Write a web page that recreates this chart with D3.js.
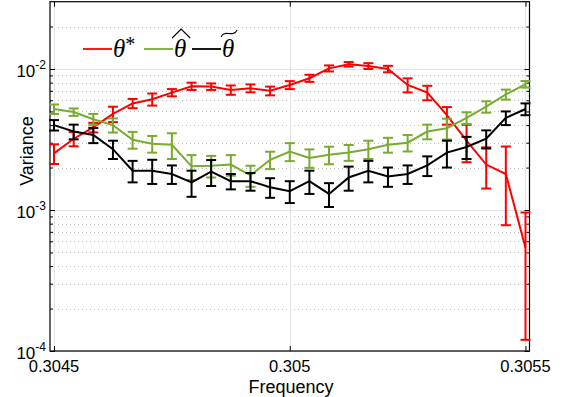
<!DOCTYPE html>
<html>
<head>
<meta charset="utf-8">
<script src="https://cdn.jsdelivr.net/npm/d3@7"></script>
<style>
  body { margin: 0; background: #fff; }
  svg { display: block; font-family: "Liberation Sans", Arial, sans-serif; }
</style>
</head>
<body>
<div id="chart"></div>
<script>
// frequencies (25 points between 0.3045 and 0.3055)
const freq = [0.3045, 0.3045417, 0.3045833, 0.304625, 0.3046667, 0.3047083, 0.30475, 0.3047917,
  0.3048333, 0.304875, 0.3049167, 0.3049583, 0.305, 0.3050417, 0.3050833, 0.305125, 0.3051667,
  0.3052083, 0.30525, 0.3052917, 0.3053333, 0.305375, 0.3054167, 0.3054583, 0.3055];

// theta* (red)
const starMean = [0.00252, 0.0032, 0.00385, 0.0048, 0.0057, 0.0061, 0.0068, 0.00755, 0.0075, 0.0071,
  0.0073, 0.0070, 0.0077, 0.0086, 0.0101, 0.0108, 0.0105, 0.0100, 0.0077, 0.0068, 0.0047, 0.0031,
  0.0021, 0.0018, 0.00054];
const starErr = [0.0004, 0.00037, 0.0003, 0.0006, 0.00043, 0.0006, 0.0004, 0.00045, 0.0004, 0.00054,
  0.00047, 0.0005, 0.0005, 0.0005, 0.0005, 0.0004, 0.0005, 0.00053, 0.00088, 0.0008, 0.00067, 0.00092,
  0.00068, 0.00102, 0.00042];

// theta hat (green)
const hatMean = [0.0052, 0.00495, 0.0044, 0.0040, 0.00315, 0.00295, 0.0029, 0.00204, 0.00206, 0.0021,
  0.00176, 0.00227, 0.0026, 0.00234, 0.00246, 0.00256, 0.0027, 0.0029, 0.0030, 0.0036, 0.0038, 0.0045,
  0.0054, 0.0066, 0.0078];
const hatErr = [0.0004, 0.0003, 0.0004, 0.00046, 0.00043, 0.0004, 0.0006, 0.00041, 0.00036, 0.00035,
  0.0003, 0.00032, 0.00038, 0.00035, 0.00035, 0.00033, 0.0004, 0.00035, 0.0004, 0.00043, 0.00064,
  0.00043, 0.0005, 0.00054, 0.00042];

// theta tilde (black)
const tildeMean = [0.0040, 0.0036, 0.0034, 0.0027, 0.0019, 0.0019, 0.0018, 0.00157, 0.00187, 0.0016,
  0.0016, 0.00145, 0.00136, 0.0016, 0.0013, 0.0017, 0.0019, 0.00173, 0.0018, 0.00207, 0.00255, 0.0028,
  0.0032, 0.0045, 0.0052];
const tildeErr = [0.00034, 0.00043, 0.00042, 0.0004, 0.00033, 0.00037, 0.00027, 0.00033, 0.00039, 0.0002,
  0.00023, 0.00023, 0.00024, 0.0003, 0.00025, 0.00033, 0.00033, 0.00027, 0.00027, 0.00033, 0.00055,
  0.0005, 0.00047, 0.0005, 0.0005];

const xTicks = [0.3045, 0.305, 0.3055];
const xTickLabels = ["0.3045", "0.305", "0.3055"];
const yTicks = [1e-4, 1e-3, 1e-2];
const yTickExps = ["-4", "-3", "-2"];

const series = [
  { key: "star", color: "#ff0000", mean: starMean, err: starErr },
  { key: "hat", color: "#77ac30", mean: hatMean, err: hatErr },
  { key: "tilde", color: "#000000", mean: tildeMean, err: tildeErr }
];

const width = 573, height = 397;
const plot = { left: 50, right: 529.5, top: 1.7, bottom: 351 };
const pad = 0.0000085;

const svg = d3.select("#chart").append("svg")
  .attr("width", width)
  .attr("height", height);

const x = d3.scaleLinear()
  .domain([xTicks[0] - pad, xTicks[xTicks.length - 1] + pad])
  .range([plot.left, plot.right]);
const y = d3.scaleLog()
  .domain([1e-4, 3e-2])
  .range([plot.bottom, plot.top]);

const minorTicks = y.ticks().filter(v => !yTicks.includes(v) && v < 0.0299);

// grid
const grid = svg.append("g").attr("shape-rendering", "crispEdges");
grid.selectAll(".minor")
  .data(minorTicks)
  .enter().append("line")
  .attr("x1", plot.left).attr("x2", plot.right)
  .attr("y1", d => Math.round(y(d)) + 0.5).attr("y2", d => Math.round(y(d)) + 0.5)
  .attr("stroke", "#bdbdbd")
  .attr("stroke-dasharray", "1,3");
grid.selectAll(".major")
  .data(yTicks)
  .enter().append("line")
  .attr("x1", plot.left).attr("x2", plot.right)
  .attr("y1", d => Math.round(y(d)) + 0.5).attr("y2", d => Math.round(y(d)) + 0.5)
  .attr("stroke", "#e3e3e3");
grid.selectAll(".vert")
  .data(xTicks)
  .enter().append("line")
  .attr("y1", plot.top).attr("y2", plot.bottom)
  .attr("x1", d => Math.round(x(d)) + 0.5).attr("x2", d => Math.round(x(d)) + 0.5)
  .attr("stroke", "#e3e3e3");

// axes: ticks pointing inward on all four sides
const axisG = svg.append("g");
axisG.append("g")
  .attr("transform", `translate(0,${plot.bottom})`)
  .call(d3.axisBottom(x).tickValues(xTicks).tickSize(-5).tickFormat(""));
axisG.append("g")
  .attr("transform", `translate(0,${plot.top})`)
  .call(d3.axisTop(x).tickValues(xTicks).tickSize(-5).tickFormat(""));
axisG.append("g")
  .attr("transform", `translate(${plot.left},0)`)
  .call(d3.axisLeft(y).tickValues(yTicks).tickSize(-5).tickFormat(""));
axisG.append("g")
  .attr("transform", `translate(${plot.left},0)`)
  .call(d3.axisLeft(y).tickValues(minorTicks).tickSize(-3).tickFormat(""));
axisG.append("g")
  .attr("transform", `translate(${plot.right},0)`)
  .call(d3.axisRight(y).tickValues(yTicks).tickSize(-5).tickFormat(""));
axisG.append("g")
  .attr("transform", `translate(${plot.right},0)`)
  .call(d3.axisRight(y).tickValues(minorTicks).tickSize(-3).tickFormat(""));
axisG.selectAll(".domain").remove();
axisG.selectAll("line").attr("stroke", "#000");

// box
svg.append("rect")
  .attr("x", plot.left).attr("y", plot.top)
  .attr("width", plot.right - plot.left).attr("height", plot.bottom - plot.top)
  .attr("fill", "none").attr("stroke", "#000").attr("stroke-width", 1.2);

// tick labels
svg.selectAll(".xlab")
  .data(xTicks)
  .enter().append("text")
  .attr("x", d => x(d)).attr("y", 372)
  .attr("text-anchor", "middle")
  .attr("font-size", 16.5)
  .text((d, i) => xTickLabels[i]);

const ylab = svg.selectAll(".ylab")
  .data(yTicks)
  .enter().append("text")
  .attr("x", 46).attr("y", d => y(d) + 8)
  .attr("text-anchor", "end")
  .attr("font-size", 17);
ylab.append("tspan").text("10");
ylab.append("tspan").attr("dy", -8).attr("font-size", 12).text((d, i) => yTickExps[i]);

// axis titles
svg.append("text")
  .attr("x", 291).attr("y", 392.5)
  .attr("text-anchor", "middle")
  .attr("font-size", 18)
  .text("Frequency");
svg.append("text")
  .attr("transform", "translate(33,151) rotate(-90)")
  .attr("text-anchor", "middle")
  .attr("font-size", 18)
  .text("Variance");

// data lines and error bars
const line = d3.line().x(d => x(d.f)).y(d => y(d.m));
const capW = 5;
series.forEach(s => {
  const pts = freq.map((f, i) => ({ f: f, m: s.mean[i], e: s.err[i] }));
  const g = svg.append("g")
    .attr("stroke", s.color)
    .attr("fill", "none")
    .attr("stroke-width", 2);
  g.append("path").attr("d", line(pts));
  const bars = g.selectAll(".bar").data(pts).enter().append("g");
  bars.append("line")
    .attr("x1", d => x(d.f)).attr("x2", d => x(d.f))
    .attr("y1", d => y(d.m + d.e)).attr("y2", d => y(d.m - d.e));
  bars.append("line")
    .attr("x1", d => x(d.f) - capW).attr("x2", d => x(d.f) + capW)
    .attr("y1", d => y(d.m + d.e)).attr("y2", d => y(d.m + d.e));
  bars.append("line")
    .attr("x1", d => x(d.f) - capW).attr("x2", d => x(d.f) + capW)
    .attr("y1", d => y(d.m - d.e)).attr("y2", d => y(d.m - d.e));
});

// legend
const legendLineX = [83, 144, 192];
const legendLineLen = 29;
const legendY = 49;
const leg = svg.append("g");
series.forEach((s, i) => {
  const x0 = legendLineX[i];
  leg.append("line")
    .attr("x1", x0).attr("x2", x0 + legendLineLen)
    .attr("y1", legendY).attr("y2", legendY)
    .attr("stroke", s.color).attr("stroke-width", 1.8);
  const t = leg.append("text")
    .attr("x", x0 + legendLineLen + 1).attr("y", legendY + 8)
    .attr("font-family", "'Liberation Serif', 'DejaVu Serif', serif")
    .attr("font-style", "italic")
    .attr("font-size", 25)
    .text("θ");
  const bb = t.node().getBBox();
  if (s.key === "star") {
    t.append("tspan").attr("dy", -6).attr("font-size", 20).attr("font-style", "normal").text("*");
  } else if (s.key === "hat") {
    const cx = bb.x + bb.width / 2 + 1;
    leg.append("path")
      .attr("d", `M${cx - 9},${legendY - 11} L${cx},${legendY - 20} L${cx + 9},${legendY - 11}`)
      .attr("fill", "none").attr("stroke", "#000").attr("stroke-width", 1.1);
  } else {
    const cx = bb.x + bb.width / 2 + 1;
    leg.append("path")
      .attr("d", `M${cx - 8},${legendY - 12} C${cx - 5},${legendY - 20} ${cx + 4},${legendY - 11} ${cx + 8},${legendY - 19}`)
      .attr("fill", "none").attr("stroke", "#000").attr("stroke-width", 1.1);
  }
});
</script>
</body>
</html>
